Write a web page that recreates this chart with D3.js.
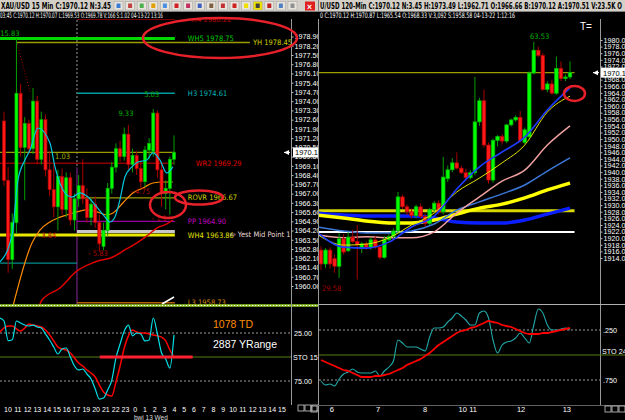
<!DOCTYPE html>
<html>
<head>
<meta charset="utf-8">
<script src="https://cdn.jsdelivr.net/npm/d3@7"></script>
<style>
  body { margin: 0; background: #000; overflow: hidden; }
  text { font-family: "Liberation Sans", Arial, sans-serif; }
  .narrow { font-family: "Liberation Sans Narrow", "DejaVu Sans Condensed", "Liberation Sans", sans-serif; }
</style>
</head>
<body>
<div id="chart"></div>
<script>
// ---------- data : XAU/USD 15 Min (left) ----------
// [open, high, low, close]
var leftBars = [
  [1972.5,1973.2,1967.6,1968.0],[1968.0,1969.0,1961.0,1962.0],[1962.0,1965.5,1961.3,1964.8],
  [1964.8,1978.75,1964.0,1974.6],[1974.6,1975.3,1969.8,1970.5],[1970.5,1972.8,1966.5,1972.3],
  [1972.3,1972.6,1970.0,1970.4],[1970.4,1975.0,1970.0,1974.0],[1974.0,1974.4,1969.2,1969.6],
  [1969.6,1973.2,1969.2,1972.6],[1972.6,1973.0,1968.3,1968.8],[1968.8,1970.2,1966.8,1967.3],
  [1967.3,1969.2,1965.2,1966.0],[1966.0,1968.8,1964.2,1968.3],[1968.3,1968.9,1965.4,1965.8],
  [1965.8,1968.6,1965.2,1968.2],[1968.2,1968.6,1964.6,1965.0],[1965.0,1967.0,1964.2,1966.6],
  [1966.6,1968.4,1966.0,1967.6],[1967.6,1969.6,1966.2,1966.6],[1966.6,1967.4,1964.8,1965.2],
  [1965.2,1966.6,1964.6,1966.2],[1966.2,1966.8,1964.4,1964.8],[1964.8,1965.4,1962.6,1963.2],
  [1963.0,1964.8,1962.7,1964.2],[1964.2,1967.8,1963.8,1967.4],[1967.4,1969.4,1967.0,1969.0],
  [1969.0,1970.8,1968.6,1970.4],[1970.4,1971.0,1969.4,1969.8],[1969.8,1972.0,1969.5,1971.5],
  [1971.5,1972.2,1968.8,1969.2],[1969.2,1970.4,1968.6,1969.9],[1969.9,1970.2,1968.4,1968.9],
  [1968.9,1969.5,1967.4,1967.9],[1967.9,1970.6,1967.5,1970.3],[1970.3,1971.2,1969.6,1970.8],
  [1970.2,1973.4,1969.8,1973.1],[1973.1,1973.3,1968.2,1968.8],[1968.8,1969.4,1966.0,1967.0],
  [1967.0,1968.0,1965.8,1967.4],[1967.4,1969.8,1965.4,1969.6],[1969.6,1971.4,1969.2,1970.12]
];
// moving averages: [bar index, price]
var leftMaCyan = [[-0.96,1961.82],[1.93,1963.86],[3.37,1968.03],[5.06,1969.55],[6.27,1970.3],[8.19,1971.97],
  [11.08,1970.83],[12.29,1969.02],[14.7,1967.05],[16.39,1966.74],[18.31,1967.05],[20.24,1966.74],
  [22.41,1965.98],[24.34,1965.23],[25.54,1964.85],[26.75,1965.23],[27.95,1966.52],[29.16,1968.26],
  [30.84,1969.02],[32.29,1969.39],[34.46,1969.55],[35.9,1970.08],[37.59,1969.55],[39.28,1968.56],[40.72,1969.02]];
var leftMaOrange = [[2.17,1958.48],[6.75,1963.26],[8.67,1964.24],[11.08,1964.85],[13.01,1965.15],[15.18,1965.38],
  [17.59,1965.61],[20.0,1965.76],[22.41,1965.61],[24.82,1965.38],[26.27,1965.53],[28.67,1966.29],
  [31.08,1967.05],[33.49,1967.42],[35.9,1967.8],[38.31,1967.88],[40.72,1967.88]];
var leftMaRed = [[8.19,1958.18],[9.16,1958.94],[13.49,1959.85],[17.59,1961.14],[21.93,1961.82],[26.27,1962.2],
  [29.16,1962.73],[32.05,1963.26],[34.46,1963.79],[36.87,1964.39],[39.28,1964.7],[40.72,1965.0]];
var leftSar = [[3.2,1978.3],[5.0,1976.2],[6.4,1974.6]];

// pivot levels
var levelNames  = ["H4 1980.22","WH5 1978.75","YH 1978.45","H3 1974.61","","WR2 1969.29","ROVR 1966.67","PP 1964.90","","WH4 1963.86","L3 1958.73",""];
var levelValues = [1980.22,1978.75,1978.45,1974.61,1970.12,1969.29,1966.67,1964.90,1964.12,1963.86,1958.73,1961.74];
var levelFrom   = [17.6,-1.2,3.1,17.6,-1.2,-1.2,17.6,17.6,17.6,-1.2,17.6,-1.2];
var levelTo     = [41.2,41.2,59.3,41.2,41.2,41.2,41.2,41.2,41.2,41.2,41.2,17.6];
var sessionIdx = 17.6;

var leftBarHigh = ["15.83","9.33","5.03","1.03"];
var leftBarHighAt = [[-0.9,1978.95],[27.6,1972.9],[33.8,1974.3],[12.3,1969.6]];
var leftBarLow = ["- 3.84","- 5.83","- 4.75","- 1.1"];
var leftBarLowAt = [[7.9,1963.6],[20.3,1962.3],[30.5,1967.0],[35.6,1964.9]];

// stochastic 15 min (bar -1 .. 41)
var leftStoFast = [9.4,12.5,33,32,12.5,14.6,16.7,17.7,16.7,18.8,19.8,26,32.3,39.6,46.9,41.7,40.6,50,59.4,63.5,62.5,
  67.7,72.9,83.3,93.8,92.7,84.4,74,51,36.5,22.9,16.7,28,25,26,33.3,32.3,9.4,26,45.8,52,61.5,27];
var leftStoSlow = [24,19.8,17.7,17.7,20.8,22.9,19.8,15.6,16.7,17.7,18.8,21.9,27,33.3,39.6,41.7,42.7,45.8,51,56.3,59.4,
  63.5,66.7,70.8,79.2,86.5,89.6,90.6,76,59.4,40.6,28,21.9,24,25,25,26,27,28,29.2,33.3,42.7,50];
var leftHours = ["10","11","12","13","14","15","16","17","19","20","21","22","23","0","1","2","3","4","5","6","7","8","9","10","11","12","13","14","15"];

// ---------- data : XAU/USD 120 Min (right) ----------
var rightBars = [
  [1916.4,1917.5,1910.4,1912.2],[1912.2,1917.0,1911.0,1916.4],[1916.4,1917.2,1910.8,1912.2],[1913.8,1915.0,1909.5,1911.5],
  [1911.5,1921.5,1908.0,1919.8],[1919.8,1921.2,1915.0,1915.8],[1916.2,1921.8,1915.8,1920.3],[1920.3,1922.5,1918.5,1919.0],
  [1919.0,1924.0,1907.5,1918.0],[1917.0,1918.8,1915.5,1918.3],[1918.3,1919.0,1916.5,1917.2],[1917.2,1920.2,1916.5,1919.5],
  [1919.5,1920.5,1916.8,1917.3],[1917.3,1918.0,1913.5,1914.2],[1914.2,1920.6,1913.8,1919.5],[1919.5,1921.2,1919.0,1920.5],
  [1920.5,1923.0,1920.0,1922.2],[1922.2,1934.0,1921.5,1932.5],[1932.5,1933.2,1928.8,1929.5],[1929.5,1930.2,1927.0,1928.0],
  [1928.0,1929.0,1926.0,1926.8],[1926.8,1930.2,1926.0,1929.5],[1929.5,1930.5,1926.0,1926.6],[1926.6,1927.5,1923.5,1924.4],
  [1924.4,1929.2,1924.0,1928.6],[1928.6,1931.2,1928.0,1930.6],[1930.6,1931.5,1927.2,1928.0],[1928.0,1944.6,1927.2,1938.5],
  [1938.0,1942.0,1937.0,1940.7],[1940.7,1944.2,1940.0,1942.8],[1942.8,1946.0,1940.8,1941.2],[1941.2,1942.0,1939.4,1939.8],
  [1939.8,1941.0,1937.5,1938.3],[1938.3,1940.6,1937.8,1939.8],[1939.8,1968.8,1939.0,1955.2],[1955.2,1962.5,1954.0,1961.6],
  [1961.6,1965.0,1947.5,1948.2],[1948.2,1949.0,1936.5,1937.6],[1937.6,1950.2,1936.8,1949.6],[1949.6,1951.2,1947.8,1950.8],
  [1950.8,1951.5,1948.4,1949.4],[1949.4,1954.6,1948.8,1954.3],[1954.3,1956.2,1953.8,1955.8],[1955.8,1957.2,1955.2,1956.6],
  [1956.6,1958.5,1949.0,1949.5],[1949.0,1953.5,1948.5,1952.8],[1950.7,1970.5,1950.0,1970.0],[1970.0,1979.4,1969.6,1976.9],
  [1976.9,1978.0,1974.8,1975.3],[1975.3,1976.0,1964.6,1965.0],[1965.0,1967.5,1964.2,1966.7],[1966.7,1968.0,1963.5,1963.9],
  [1963.9,1975.0,1963.4,1971.4],[1971.4,1973.5,1967.6,1968.3],[1968.3,1969.5,1967.6,1968.8],[1968.8,1973.5,1968.2,1970.12]
];
var rightMaIdx = [-0.7,5,10,15,20,25,30,35,40,45,50,55];
var rightMaFastBlue   = [1921.6,1917.3,1917.0,1918.8,1923.4,1926.7,1934.9,1941.6,1946.1,1950.6,1958.8,1965.5];
var rightMaFastYellow = [1921.0,1917.9,1918.2,1920.1,1924.0,1927.6,1934.0,1938.2,1942.8,1948.2,1958.2,1963.0];
var rightMaPink       = [1921.0,1920.1,1920.4,1920.1,1920.1,1921.9,1927.6,1932.5,1937.3,1940.6,1948.2,1954.0];
var rightMaSteel      = [1923.4,1922.2,1921.6,1921.6,1922.2,1924.3,1928.5,1931.0,1933.4,1936.1,1940.3,1944.3];
var rightMaSlowYellow = [1927.0,1926.1,1925.2,1924.6,1924.6,1925.5,1927.3,1929.1,1930.3,1932.2,1934.6,1936.7];
var rightMaSlowBlue   = [1927.6,1927.0,1926.7,1926.7,1926.7,1926.1,1924.9,1924.6,1924.6,1925.5,1927.3,1929.1];
var rightLevels = [1970.12,1928.3,1921.9];
var rightStoFast = [.76,.80,.79,.81,.74,.69,.67,.64,.67,.68,.68,.68,.66,.71,.66,.62,.56,.35,.38,.42,.42,.42,.44,.46,.32,.23,.23,.22,
  .17,.13,.08,.11,.15,.20,.20,.08,.06,.13,.35,.48,.40,.37,.36,.33,.28,.33,.38,.20,.04,.08,.20,.25,.25,.24,.23,.25];
var rightStoSlow = [.55,.57,.59,.61,.63,.65,.66,.68,.70,.72,.72,.72,.71,.71,.70,.69,.67,.65,.63,.60,.58,.56,.54,.51,.48,.44,.40,.37,
  .34,.31,.28,.26,.25,.23,.22,.20,.18,.16,.17,.18,.20,.21,.22,.24,.26,.28,.29,.29,.29,.28,.28,.27,.26,.25,.24,.23];
var rightHours = ["6","7","8","10","11","12","13"];
var rightHourAt = [2.4,12.6,23,31.3,33.6,44.2,54.3];

// ---------- drawing ----------
var W = 625, H = 420;
var svg = d3.select("#chart").append("svg")
    .attr("width", W).attr("height", H)
    .style("background", "#000").style("display", "block");

var xL = d3.scaleLinear().domain([0, 41]).range([4, 174]);
var yL = d3.scaleLinear().domain([1960, 1978.9]).range([286, 36.5]);
var xR = d3.scaleLinear().domain([0, 55]).range([321, 570]);
var yR = d3.scaleLinear().domain([1914, 1980]).range([258, 40]);
var ySL = d3.scaleLinear().domain([0, 100]).range([309, 405]);
var ySR = d3.scaleLinear().domain([0, 1]).range([305, 405]);

var defs = svg.append("defs");
function clip(id, x, y, w, h) {
  defs.append("clipPath").attr("id", id).append("rect")
    .attr("x", x).attr("y", y).attr("width", w).attr("height", h);
}
clip("clipL", 0, 19, 291, 286);
clip("clipR", 319, 19, 281, 285);
clip("clipSL", 0, 307, 291, 98);
clip("clipSR", 319, 305, 281, 100);
clip("clipLeftPanel", 0, 0, 318, 420);

function drawCandles(g, bars, x, y, w) {
  g.selectAll(null).data(bars).join("line")
    .attr("x1", function(d, i) { return x(i); })
    .attr("x2", function(d, i) { return x(i); })
    .attr("y1", function(d) { return y(d[1]); })
    .attr("y2", function(d) { return y(d[2]); })
    .attr("stroke", function(d) { return d[3] >= d[0] ? "#00a000" : "#a80000"; })
    .attr("stroke-width", 1);
  g.selectAll(null).data(bars).join("rect")
    .attr("x", function(d, i) { return x(i) - w / 2; })
    .attr("y", function(d) { return y(Math.max(d[0], d[3])); })
    .attr("width", w)
    .attr("height", function(d) { return Math.max(1, Math.abs(y(d[0]) - y(d[3]))); })
    .attr("fill", function(d) { return d[3] >= d[0] ? "#00ff00" : "#ff1a1a"; })
    .attr("stroke", function(d) { return d[3] >= d[0] ? "#00b000" : "#b00000"; })
    .attr("stroke-width", 0.7);
}

function pairLine(x, y) {
  return d3.line().x(function(d) { return x(d[0]); }).y(function(d) { return y(d[1]); })
    .curve(d3.curveMonotoneX);
}

// ===== LEFT PANEL =====
var left = svg.append("g").attr("clip-path", "url(#clipLeftPanel)");
var gL = left.append("g").attr("clip-path", "url(#clipL)");

// session divider
gL.append("line").attr("x1", xL(sessionIdx)).attr("x2", xL(sessionIdx))
  .attr("y1", 20).attr("y2", yL(1969.0))
  .attr("stroke", "#9a9a9a").attr("stroke-dasharray", "2,2");
gL.append("line").attr("x1", xL(sessionIdx)).attr("x2", xL(sessionIdx))
  .attr("y1", yL(1969.0)).attr("y2", 305)
  .attr("stroke", "#8a2a9a");

var levelColor = ["#a00000","#00d800","#9c9c00","#009c9c","#9c9c00","#8c0000","#9c9c00","#9a00a0","#c8c8c8","#e8e800","#b06000","#008c8c"];
var levelLabelColor = ["#c00000","#00c800","#d0d000","#00b4b4","","#e00000","#d0d000","#c000c0","","#e0e000","#d08000",""];
var levelWidth = [1.5,3,1.5,1.5,1.2,1.5,1.2,1.2,3,3,1.5,1.2];
var levelLabelDx = [17,13,3,13,0,21,13,13,0,13,13,0];

gL.selectAll(null).data(levelValues).join("line")
  .attr("x1", function(d, i) { return xL(levelFrom[i]); })
  .attr("x2", function(d, i) { return xL(levelTo[i]); })
  .attr("y1", function(d) { return yL(d); })
  .attr("y2", function(d) { return yL(d); })
  .attr("stroke", function(d, i) { return levelColor[i]; })
  .attr("stroke-width", function(d, i) { return levelWidth[i]; });

gL.selectAll(null).data(levelValues).join("text")
  .attr("class", "narrow")
  .attr("x", function(d, i) { return xL(levelTo[i]) + levelLabelDx[i]; })
  .attr("y", function(d) { return yL(d) + 2.5; })
  .attr("font-size", "7.5px")
  .attr("fill", function(d, i) { return levelLabelColor[i]; })
  .text(function(d, i) { return levelNames[i]; });

gL.append("text").attr("class", "narrow")
  .attr("x", 230).attr("y", yL(1963.86) + 1.5)
  .attr("font-size", "7.5px").attr("fill", "#e8d8d8")
  .text("\u21e6 Yest Mid Point 1");

// MAs
gL.append("path").datum(leftMaRed).attr("d", pairLine(xL, yL))
  .attr("fill", "none").attr("stroke", "#e00000").attr("stroke-width", 1.5);
gL.append("path").datum(leftMaOrange).attr("d", pairLine(xL, yL))
  .attr("fill", "none").attr("stroke", "#ff8c00").attr("stroke-width", 1.2);
gL.append("path").datum(leftSar).attr("d", pairLine(xL, yL))
  .attr("fill", "none").attr("stroke", "#b00000").attr("stroke-width", 1).attr("stroke-dasharray", "1,2");

drawCandles(gL, leftBars, xL, yL, 3);

gL.append("path").datum(leftMaCyan).attr("d", pairLine(xL, yL))
  .attr("fill", "none").attr("stroke", "#00c8e0").attr("stroke-width", 1.2);

// bar-range annotations
gL.selectAll(null).data(leftBarHigh).join("text").attr("class", "narrow")
  .attr("x", function(d, i) { return xL(leftBarHighAt[i][0]); })
  .attr("y", function(d, i) { return yL(leftBarHighAt[i][1]); })
  .attr("font-size", "7.5px").attr("fill", function(d, i) { return i == 3 ? "#a0b000" : "#00b000"; })
  .text(function(d) { return d; });
gL.selectAll(null).data(leftBarLow).join("text").attr("class", "narrow")
  .attr("x", function(d, i) { return xL(leftBarLowAt[i][0]); })
  .attr("y", function(d, i) { return yL(leftBarLowAt[i][1]); })
  .attr("font-size", "7.5px").attr("fill", "#b00000")
  .text(function(d) { return d; });

// white stroke near L3
gL.append("line").attr("x1", 162).attr("y1", 304).attr("x2", 174).attr("y2", 297)
  .attr("stroke", "#fff").attr("stroke-width", 1.5);

// separator between price and stochastic
left.append("line").attr("x1", 0).attr("x2", 318).attr("y1", 305.5).attr("y2", 305.5)
  .attr("stroke", "#9acd32").attr("stroke-width", 2.5);
left.append("line").attr("x1", 0).attr("x2", 318).attr("y1", 305.5).attr("y2", 305.5)
  .attr("stroke", "#f0fff0").attr("stroke-width", 1).attr("stroke-dasharray", "1,2");

// y axis
left.append("line").attr("x1", 291.5).attr("x2", 291.5).attr("y1", 19).attr("y2", 405)
  .attr("stroke", "#9a9a9a");
var leftTicks = d3.range(0, 28).map(function(k) { return 1960 + 0.7 * k; });
var axL = left.append("g").attr("transform", "translate(291.5,0)")
  .call(d3.axisRight(yL).tickValues(leftTicks).tickFormat(d3.format(".2f")).tickSize(2).tickPadding(1));
axL.select(".domain").remove();
axL.selectAll("line").attr("stroke", "#bbb");
axL.selectAll("text").attr("fill", "#fff").attr("font-size", "7.2px")
  .style("font-family", "'Liberation Sans', Arial, sans-serif");

// current price tag
left.append("rect").attr("x", 293).attr("y", yL(1970.12) - 5).attr("width", 26).attr("height", 10)
  .attr("fill", "#fff");
left.append("text").attr("x", 295).attr("y", yL(1970.12) + 3).attr("font-size", "7.5px")
  .attr("fill", "#000").text("1970.12");
left.append("path").attr("d", "M284," + yL(1970.12) + "l5,-2.5v5z").attr("fill", "#fff");
left.append("line").attr("x1", 284).attr("x2", 290).attr("y1", yL(1970.12)).attr("y2", yL(1970.12))
  .attr("stroke", "#fff");

// stochastic (left)
var gSL = left.append("g").attr("clip-path", "url(#clipSL)");
[25, 75].forEach(function(v) {
  gSL.append("line").attr("x1", 0).attr("x2", 291).attr("y1", ySL(v)).attr("y2", ySL(v))
    .attr("stroke", "#9a9a9a").attr("stroke-dasharray", "2,2");
});
gSL.append("line").attr("x1", 0).attr("x2", 291).attr("y1", ySL(50)).attr("y2", ySL(50))
  .attr("stroke", "#5a7d1a").attr("stroke-width", 1.2);
var stoLineL = d3.line().x(function(d, i) { return xL(i - 1); }).y(function(d) { return ySL(d); })
  .curve(d3.curveMonotoneX);
gSL.append("path").datum(leftStoSlow).attr("d", stoLineL)
  .attr("fill", "none").attr("stroke", "#ff0000").attr("stroke-width", 1.5);
gSL.append("path").datum(leftStoFast).attr("d", stoLineL)
  .attr("fill", "none").attr("stroke", "#00e0e8").attr("stroke-width", 1.2);
gSL.append("line").attr("x1", xL(23.1)).attr("x2", xL(45.5)).attr("y1", ySL(50)).attr("y2", ySL(50))
  .attr("stroke", "#ff2030").attr("stroke-width", 3);
gSL.append("text").attr("x", 213).attr("y", 328).attr("font-size", "10.5px").attr("fill", "#ff8c00")
  .text("1078 TD");
gSL.append("text").attr("x", 213).attr("y", 348).attr("font-size", "10.5px").attr("fill", "#fff")
  .text("2887 YRange");

left.append("text").attr("x", 294).attr("y", ySL(25) + 2.5).attr("font-size", "7.2px").attr("fill", "#fff").text("25.00");
left.append("text").attr("x", 293).attr("y", ySL(50) + 2.5).attr("font-size", "7.2px").attr("fill", "#fff").text("STO  15");
left.append("text").attr("x", 294).attr("y", ySL(75) + 2.5).attr("font-size", "7.2px").attr("fill", "#fff").text("75.00");

// time axis (left)
var hourL = d3.scalePoint().domain(d3.range(leftHours.length)).range([8, 282]);
left.selectAll(null).data(leftHours).join("text")
  .attr("x", function(d, i) { return hourL(i); }).attr("y", 412)
  .attr("text-anchor", "middle").attr("font-size", "7px").attr("fill", "#fff")
  .text(function(d) { return d; });
left.append("text").attr("x", 134).attr("y", 419.5).attr("font-size", "6.5px").attr("fill", "#ddd").text("bwi 13 Wed");
[298, 305, 312].forEach(function(x) {
  left.append("rect").attr("x", x).attr("y", 405).attr("width", 6).attr("height", 6)
    .attr("fill", "none").attr("stroke", "#ccc").attr("stroke-width", 0.8);
});

// ===== RIGHT PANEL =====
var right = svg.append("g");
right.append("rect").attr("x", 318).attr("y", 12).attr("width", 307).attr("height", 408).attr("fill", "#000");
var gR = right.append("g").attr("clip-path", "url(#clipR)");

var rightLevelColor = ["#9c9c00", "#d8d800", "#ffffff"];
var rightLevelWidth = [1.2, 3, 2];
gR.selectAll(null).data(rightLevels).join("line")
  .attr("x1", 319).attr("x2", xR(56))
  .attr("y1", function(d) { return yR(d); }).attr("y2", function(d) { return yR(d); })
  .attr("stroke", function(d, i) { return rightLevelColor[i]; })
  .attr("stroke-width", function(d, i) { return rightLevelWidth[i]; });

var maLineR = d3.line().x(function(d, i) { return xR(rightMaIdx[i]); }).y(function(d) { return yR(d); })
  .curve(d3.curveMonotoneX);
var rightMas = [rightMaSlowBlue, rightMaSlowYellow, rightMaSteel, rightMaPink];
var rightMaColor = ["#0a1eff", "#ffff00", "#3c78d8", "#f0a0a0"];
var rightMaWidth = [3.5, 3.5, 1.5, 1.5];
rightMas.forEach(function(m, k) {
  gR.append("path").datum(m).attr("d", maLineR)
    .attr("fill", "none").attr("stroke", rightMaColor[k]).attr("stroke-width", rightMaWidth[k]);
});

drawCandles(gR, rightBars, xR, yR, 3.6);

gR.append("path").datum(rightMaFastYellow).attr("d", maLineR)
  .attr("fill", "none").attr("stroke", "#e6e600").attr("stroke-width", 1);
gR.append("path").datum(rightMaFastBlue).attr("d", maLineR)
  .attr("fill", "none").attr("stroke", "#1e3cff").attr("stroke-width", 1.6);

gR.append("text").attr("class", "narrow").attr("x", 530).attr("y", 39).attr("font-size", "7.5px")
  .attr("fill", "#00b000").text("63.53");
gR.append("text").attr("class", "narrow").attr("x", 322).attr("y", 291).attr("font-size", "7.5px")
  .attr("fill", "#a00000").text("29.58");
right.append("text").attr("x", 580).attr("y", 30).attr("font-size", "10px").attr("fill", "#fff").text("T=");

// borders
right.append("line").attr("x1", 318.5).attr("x2", 318.5).attr("y1", 19).attr("y2", 420).attr("stroke", "#9a9a9a");
right.append("line").attr("x1", 600.5).attr("x2", 600.5).attr("y1", 19).attr("y2", 405).attr("stroke", "#9a9a9a");
right.append("line").attr("x1", 318).attr("x2", 625).attr("y1", 304.5).attr("y2", 304.5).attr("stroke", "#b0b0b0");
right.append("line").attr("x1", 318).attr("x2", 625).attr("y1", 405.5).attr("y2", 405.5).attr("stroke", "#606060");

var axR = right.append("g").attr("transform", "translate(600.5,0)")
  .call(d3.axisRight(yR).tickValues(d3.range(1914, 1981, 2)).tickFormat(d3.format(".2f")).tickSize(2).tickPadding(1));
axR.select(".domain").remove();
axR.selectAll("line").attr("stroke", "#bbb");
axR.selectAll("text").attr("fill", "#fff").attr("font-size", "7.2px")
  .style("font-family", "'Liberation Sans', Arial, sans-serif");

right.append("rect").attr("x", 601).attr("y", yR(1970.12) - 5).attr("width", 26).attr("height", 10).attr("fill", "#fff");
right.append("text").attr("x", 603).attr("y", yR(1970.12) + 3).attr("font-size", "7.5px").attr("fill", "#000").text("1970.12");
right.append("path").attr("d", "M593," + yR(1970.12) + "l5,-2.5v5z").attr("fill", "#fff");
right.append("line").attr("x1", 593).attr("x2", 599).attr("y1", yR(1970.12)).attr("y2", yR(1970.12)).attr("stroke", "#fff");

// stochastic (right)
var gSR = right.append("g").attr("clip-path", "url(#clipSR)");
[0.25, 0.75].forEach(function(v) {
  gSR.append("line").attr("x1", 319).attr("x2", 600).attr("y1", ySR(v)).attr("y2", ySR(v))
    .attr("stroke", "#9a9a9a").attr("stroke-dasharray", "2,2");
});
gSR.append("line").attr("x1", 319).attr("x2", 625).attr("y1", ySR(0.5)).attr("y2", ySR(0.5))
  .attr("stroke", "#5a7d1a").attr("stroke-width", 1.2);
var stoLineR = d3.line().x(function(d, i) { return xR(i); }).y(function(d) { return ySR(d); })
  .curve(d3.curveMonotoneX);
gSR.append("path").datum(rightStoFast).attr("d", stoLineR)
  .attr("fill", "none").attr("stroke", "#20a8a8").attr("stroke-width", 1.1);
gSR.append("path").datum(rightStoSlow).attr("d", stoLineR)
  .attr("fill", "none").attr("stroke", "#ff0000").attr("stroke-width", 1.8);
right.append("line").attr("x1", 600).attr("x2", 625).attr("y1", ySR(0.5)).attr("y2", ySR(0.5))
  .attr("stroke", "#5a7d1a");
right.append("text").attr("x", 603).attr("y", ySR(0.25) + 2.5).attr("font-size", "7.2px").attr("fill", "#fff").text(".250");
right.append("text").attr("x", 602).attr("y", ySR(0.5) - 1).attr("font-size", "7.2px").attr("fill", "#fff").text("STO  24");
right.append("text").attr("x", 603).attr("y", ySR(0.75) + 2.5).attr("font-size", "7.2px").attr("fill", "#fff").text(".750");

right.selectAll(null).data(rightHours).join("text")
  .attr("x", function(d, i) { return xR(rightHourAt[i]); }).attr("y", 412)
  .attr("text-anchor", "middle").attr("font-size", "7.5px").attr("fill", "#fff")
  .text(function(d) { return d; });
[605, 612, 619].forEach(function(x) {
  right.append("rect").attr("x", x).attr("y", 406).attr("width", 6).attr("height", 6)
    .attr("fill", "none").attr("stroke", "#ccc").attr("stroke-width", 0.8);
});
right.append("rect").attr("x", 311).attr("y", 406).attr("width", 6).attr("height", 6)
  .attr("fill", "none").attr("stroke", "#ccc").attr("stroke-width", 0.8);

// ===== HEADERS =====
svg.append("rect").attr("x", 0).attr("y", 0).attr("width", 625).attr("height", 12).attr("fill", "#d4d0c8");
svg.append("line").attr("x1", 0).attr("x2", 625).attr("y1", 11.5).attr("y2", 11.5).attr("stroke", "#808080");
svg.append("text").attr("class", "narrow").attr("x", 1).attr("y", 9).attr("font-size", "8.5px")
  .attr("font-weight", "bold").attr("fill", "#000")
  .attr("textLength", 110).attr("lengthAdjust", "spacingAndGlyphs")
  .text("XAU/USD  15 Min  C:1970.12  N:3.45");
var iconColors = ["#3a7bd5","#c04040","#4caf50","#e0a000","#4a90e2","#d02020","#c03060","#4060c0","#806040","#c03030","#d02020","#f0e000","#404040","#c02020","#5080c0","#909090"];
svg.selectAll(null).data(iconColors).join("rect")
  .attr("x", function(d, i) { return 114 + i * 11.6; }).attr("y", 1.5)
  .attr("width", 9).attr("height", 8.5)
  .attr("fill", function(d, i) { return i == 12 ? "#f0e000" : "#e8e4dc"; })
  .attr("stroke", "#a0a0a0").attr("stroke-width", 0.5);
svg.selectAll(null).data(iconColors).join("rect")
  .attr("x", function(d, i) { return 116.5 + i * 11.6; }).attr("y", 3.5)
  .attr("width", 4).attr("height", 4.5)
  .attr("fill", function(d) { return d; });
svg.append("rect").attr("x", 305).attr("y", 1.5).attr("width", 10).attr("height", 9).attr("fill", "#e02020");
svg.append("text").attr("x", 307).attr("y", 9.5).attr("font-size", "8.5px").attr("font-weight", "bold")
  .attr("fill", "#fff").text("\u00d7");
svg.append("line").attr("x1", 318.5).attr("x2", 318.5).attr("y1", 0).attr("y2", 12).attr("stroke", "#808080");
svg.append("text").attr("class", "narrow").attr("x", 320).attr("y", 9).attr("font-size", "8.5px")
  .attr("font-weight", "bold").attr("fill", "#000")
  .attr("textLength", 302).attr("lengthAdjust", "spacingAndGlyphs")
  .text("U/USD  120-Min  C:1970.12  N:3.45  H:1973.49  L:1962.71  O:1966.66  B:1970.12  A:1970.51  V:23.5K  O");

svg.append("text").attr("class", "narrow").attr("x", 0).attr("y", 18).attr("font-size", "7.5px")
  .attr("fill", "#fff").attr("textLength", 163).attr("lengthAdjust", "spacingAndGlyphs")
  .text("03:45 C:1970.12 H:1970.07 L:1969.53 O:1969.78 V:166 S:1.02 04-13-22 13:16");
svg.append("text").attr("class", "narrow").attr("x", 320).attr("y", 18).attr("font-size", "7.5px")
  .attr("fill", "#fff").attr("textLength", 195).attr("lengthAdjust", "spacingAndGlyphs")
  .text("0 C:1970.12 H:1970.87 L:1965.54 O:1968.33 V:3,092 S:1958.58 04-13-22 1:12:16");

// ===== hand-drawn red rings =====
var rings = [[220, 38, 77, 20], [199, 197.5, 24, 7], [168, 205, 18, 13], [574.5, 93.5, 10.5, 7.5]];
svg.selectAll(null).data(rings).join("ellipse")
  .attr("cx", function(d) { return d[0]; }).attr("cy", function(d) { return d[1]; })
  .attr("rx", function(d) { return d[2]; }).attr("ry", function(d) { return d[3]; })
  .attr("fill", "none").attr("stroke", "#e8202a").attr("stroke-width", 2.5);
</script>
</body>
</html>
